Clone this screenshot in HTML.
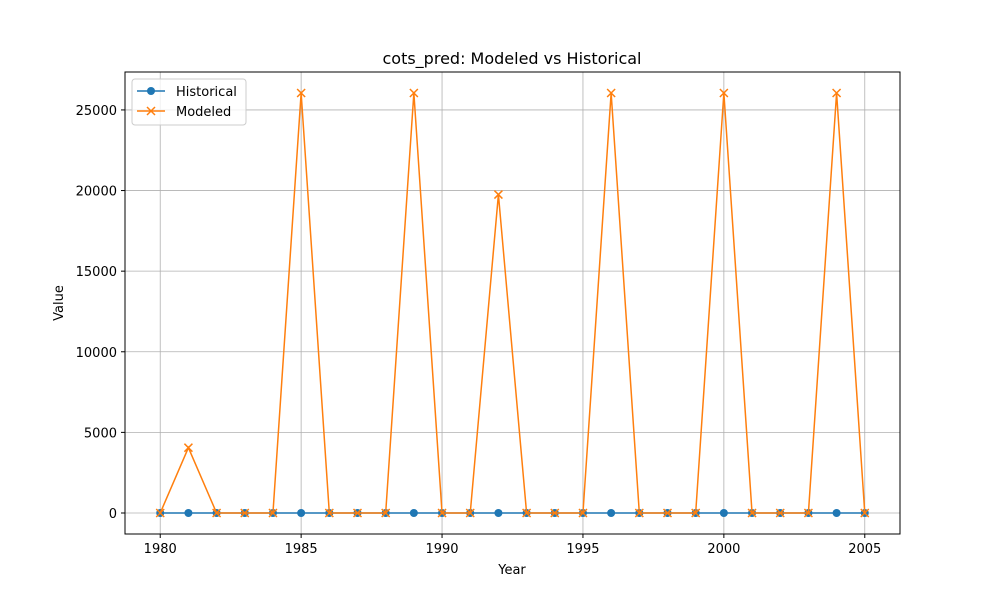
<!DOCTYPE html>
<html><head><meta charset="utf-8"><style>
body{margin:0;background:#fff;}
svg text{font-family:"DejaVu Sans","Liberation Sans",sans-serif;fill:#000;}
</style></head><body>
<svg id="chart" width="1000" height="600" xmlns="http://www.w3.org/2000/svg">
<rect width="1000" height="600" fill="#fff"/>
<g id="grid"></g>
<g id="series"></g>
<rect x="125" y="72" width="775" height="462" fill="none" stroke="#000" stroke-width="1"/>
<g id="axes"></g>
<text x="512" y="64" font-size="16" text-anchor="middle">cots_pred: Modeled vs Historical</text>
<text x="512" y="574" font-size="13" text-anchor="middle">Year</text>
<text x="63" y="303" font-size="13" text-anchor="middle" transform="rotate(-90 63 303)">Value</text>
<g>
<rect x="132" y="79" width="114" height="46" rx="3" fill="#fff" fill-opacity="0.8" stroke="#ccc"/>
<g>
<line x1="137" y1="91" x2="165" y2="91" stroke="#1f77b4" stroke-width="1.5"/>
<circle cx="151" cy="91" r="4" fill="#1f77b4"/>
<text x="176" y="96" font-size="13">Historical</text></g>
<g>
<line x1="137" y1="111" x2="165" y2="111" stroke="#ff7f0e" stroke-width="1.5"/>
<path d="M147,107L155,115M147,115L155,107" stroke="#ff7f0e" stroke-width="1.5"/>
<text x="176" y="116" font-size="13">Modeled</text></g>
</g>
</svg>
<script>
const years=[1980,1981,1982,1983,1984,1985,1986,1987,1988,1989,1990,1991,1992,1993,1994,1995,1996,1997,1998,1999,2000,2001,2002,2003,2004,2005];
const historical=[0,0,0,0,0,0,0,0,0,0,0,0,0,0,0,0,0,0,0,0,0,0,0,0,0,0];
const modeled=[0,4050,0,0,0,26050,0,0,0,26050,0,0,19750,0,0,0,26050,0,0,0,26050,0,0,0,26050,0];
const xTicks=[1980,1985,1990,1995,2000,2005];
const yTicks=[0,5000,10000,15000,20000,25000];
const NS="http://www.w3.org/2000/svg";
const X=v=>125+(v-1978.75)/(2006.25-1978.75)*775;
const Y=v=>534-(v+1302.5)/(27352.5+1302.5)*462;
function mk(t,a,p){const e=document.createElementNS(NS,t);for(const k in a)e.setAttribute(k,a[k]);p.appendChild(e);return e;}
const grid=document.getElementById('grid'),axes=document.getElementById('axes'),ser=document.getElementById('series');
xTicks.forEach(t=>{const x=X(t);
mk('line',{x1:x,x2:x,y1:72,y2:534,stroke:'#b0b0b0','stroke-width':0.8},grid);
mk('line',{x1:x,x2:x,y1:534,y2:538,stroke:'#000'},axes);
const tx=mk('text',{x:x,y:553,'font-size':13,'text-anchor':'middle'},axes);tx.textContent=t;

});
yTicks.forEach(t=>{const y=Y(t);
mk('line',{x1:125,x2:900,y1:y,y2:y,stroke:'#b0b0b0','stroke-width':0.8},grid);
mk('line',{x1:121,x2:125,y1:y,y2:y,stroke:'#000'},axes);
const tx=mk('text',{x:117,y:y+5,'font-size':13,'text-anchor':'end'},axes);tx.textContent=t;

});
const hl=mk('polyline',{points:years.map((y,i)=>X(y)+','+Y(historical[i])).join(' '),fill:'none',stroke:'#1f77b4','stroke-width':1.5},ser);


years.forEach((y,i)=>{const c=mk('circle',{cx:X(y),cy:Y(historical[i]),r:4,fill:'#1f77b4'},ser);

});
const ml=mk('polyline',{points:years.map((y,i)=>X(y)+','+Y(modeled[i])).join(' '),fill:'none',stroke:'#ff7f0e','stroke-width':1.5},ser);


years.forEach((y,i)=>{const x=X(y),v=Y(modeled[i]);
const p=mk('path',{d:`M${x-4},${v-4}L${x+4},${v+4}M${x-4},${v+4}L${x+4},${v-4}`,stroke:'#ff7f0e','stroke-width':1.5},ser);

});
</script>
</body></html>
